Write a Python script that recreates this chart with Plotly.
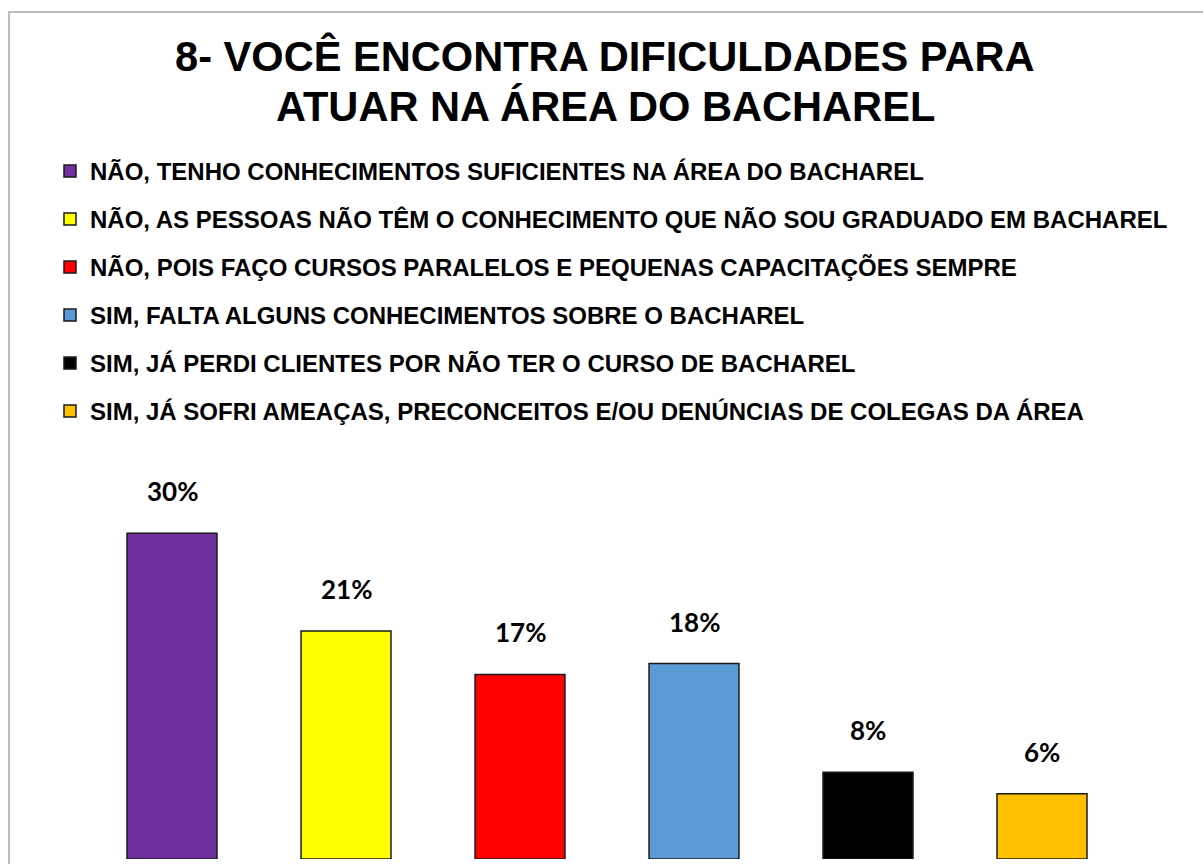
import plotly.graph_objects as go

categories = [
    "NÃO, TENHO CONHECIMENTOS SUFICIENTES NA ÁREA DO BACHAREL",
    "NÃO, AS PESSOAS NÃO TÊM O CONHECIMENTO QUE NÃO SOU GRADUADO EM BACHAREL",
    "NÃO, POIS FAÇO CURSOS PARALELOS E PEQUENAS CAPACITAÇÕES SEMPRE",
    "SIM, FALTA ALGUNS CONHECIMENTOS SOBRE O BACHAREL",
    "SIM, JÁ PERDI CLIENTES POR NÃO TER O CURSO DE BACHAREL",
    "SIM, JÁ SOFRI AMEAÇAS, PRECONCEITOS E/OU DENÚNCIAS DE COLEGAS DA ÁREA",
]
values = [30, 21, 17, 18, 8, 6]
value_labels = ["30%", "21%", "17%", "18%", "8%", "6%"]
colors = ["#7030A0", "#FFFF00", "#FF0000", "#5B9BD5", "#000000", "#FFC000"]
title_lines = ["8- VOCÊ ENCONTRA DIFICULDADES PARA", "ATUAR NA ÁREA DO BACHAREL"]

W, H = 1203, 864
L, R, T, B = 85, 74, 479, 5
pw, ph = W - L - R, H - T - B


def px_x(x):
    return (x - L) / pw


def px_y(y):
    return (H - B - y) / ph


fig = go.Figure()
for i, (cat, val, col) in enumerate(zip(categories, values, colors)):
    fig.add_trace(go.Bar(
        x=[i], y=[val], name=cat, legendgroup=f"g{i}",
        marker=dict(color=col, line=dict(color="#1a1a1a", width=1.5)),
        hoverinfo="skip",
    ))
    fig.add_annotation(
        x=i, y=val, xref="x", yref="y", text=value_labels[i],
        showarrow=False, yanchor="middle", yshift=42,
        font=dict(family="Lato", size=26, color="#000000", weight="bold"),
    )

title_y = [56, 106]
for line, ty in zip(title_lines, title_y):
    fig.add_annotation(
        x=px_x(605), y=px_y(ty), xref="paper", yref="paper", text=line,
        showarrow=False, xanchor="center", yanchor="middle",
        font=dict(family="Liberation Sans", size=41.6, color="#000000", weight="bold"),
    )

fig.add_shape(type="rect", xref="paper", yref="paper",
              x0=px_x(9), x1=px_x(1215), y0=px_y(880), y1=px_y(12),
              line=dict(color="#A6A6A6", width=1.5), fillcolor="rgba(0,0,0,0)", layer="below")

fig.update_layout(
    width=W, height=H,
    margin=dict(l=L, r=R, t=T, b=B),
    paper_bgcolor="white", plot_bgcolor="white",
    barmode="overlay", bargap=0.483,
    showlegend=True,
    legend=dict(
        x=px_x(50), xanchor="left", y=px_y(149), yanchor="top",
        orientation="v", traceorder="grouped", tracegroupgap=13.8,
        font=dict(family="Liberation Sans", size=24, color="#000000", weight="bold"),
        bgcolor="rgba(0,0,0,0)", borderwidth=0,
    ),
    xaxis=dict(range=[-0.5, 5.5], showticklabels=False, showgrid=False, zeroline=False,
               showline=False, ticks=""),
    yaxis=dict(range=[0, 35], showticklabels=False, showgrid=False, zeroline=False,
               showline=False, ticks=""),
)

fig.write_html("out.html")
